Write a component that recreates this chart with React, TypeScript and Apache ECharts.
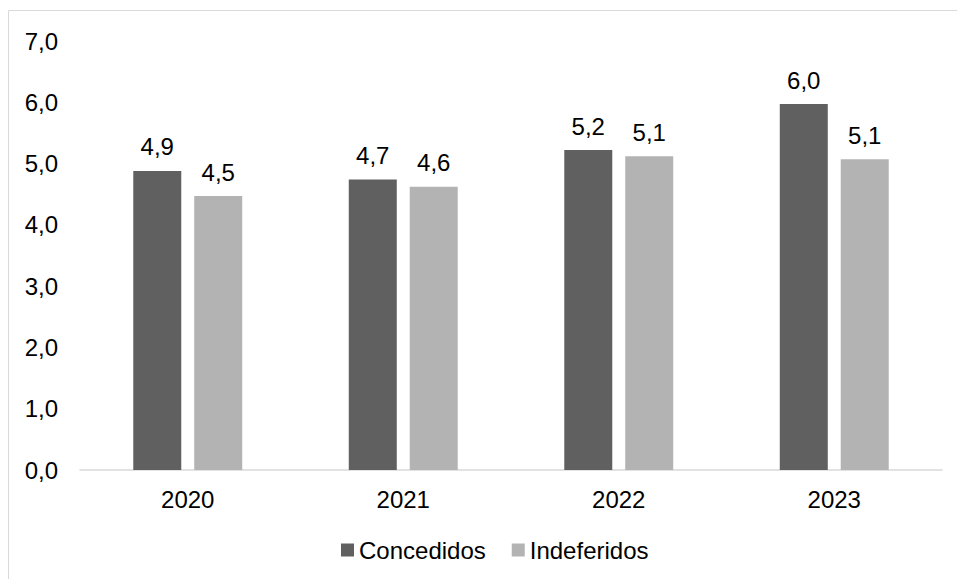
import React, { useEffect, useRef } from "react";
import * as echarts from "echarts";

const categories = ["2020", "2021", "2022", "2023"];
const concedidos = [4.88, 4.74, 5.22, 5.97];
const indeferidos = [4.47, 4.62, 5.12, 5.07];
const seriesNames = ["Concedidos", "Indeferidos"];

const FONT = "Liberation Sans, Arial, sans-serif";
const FS = 24;

export default function App() {
  const ref = useRef<HTMLDivElement>(null);
  useEffect(() => {
    if (!ref.current) return;
    const chart = echarts.init(ref.current, undefined, { renderer: "svg" });
    const fmt = (v: number) => v.toFixed(1).replace(".", ",");
    const label = {
      show: true,
      position: "top" as const,
      distance: 12,
      fontSize: FS,
      fontFamily: FONT,
      color: "#000",
      formatter: (p: any) => fmt(p.value),
    };
    chart.setOption({
      animation: false,
      backgroundColor: "#fff",
      textStyle: { fontFamily: FONT },
      graphic: [
        {
          type: "rect",
          shape: { x: 8.5, y: 10.5, width: 1000, height: 700 },
          style: { fill: "none", stroke: "#d9d9d9", lineWidth: 1 },
          silent: true,
        },
      ],
      grid: { left: 80, top: 41, width: 862, height: 429, containLabel: false },
      legend: {
        data: seriesNames,
        left: 341,
        top: 538,
        padding: 0,
        itemWidth: 13,
        itemHeight: 13,
        itemGap: 26,
        icon: "rect",
        textStyle: { fontSize: FS, fontFamily: FONT, color: "#000" },
      },
      xAxis: {
        type: "category",
        data: categories,
        axisLine: { show: true, lineStyle: { color: "#d9d9d9", width: 1.5 } },
        axisTick: { show: false },
        axisLabel: { fontSize: FS, fontFamily: FONT, color: "#000", margin: 17 },
      },
      yAxis: {
        type: "value",
        min: 0,
        max: 7,
        interval: 1,
        axisLine: { show: false },
        axisTick: { show: false },
        splitLine: { show: false },
        axisLabel: {
          fontSize: FS,
          fontFamily: FONT,
          color: "#000",
          margin: 22,
          formatter: (v: number) => fmt(v),
        },
      },
      series: [
        {
          name: seriesNames[0],
          type: "bar",
          data: concedidos,
          barWidth: 48,
          barGap: "27%",
          itemStyle: { color: "#606060" },
          label,
        },
        {
          name: seriesNames[1],
          type: "bar",
          data: indeferidos,
          barWidth: 48,
          itemStyle: { color: "#b3b3b3" },
          label,
        },
      ],
    });
    return () => chart.dispose();
  }, []);
  return (
    <div
      ref={ref}
      style={{ position: "fixed", left: 0, top: 0, width: 957, height: 579 }}
    />
  );
}
